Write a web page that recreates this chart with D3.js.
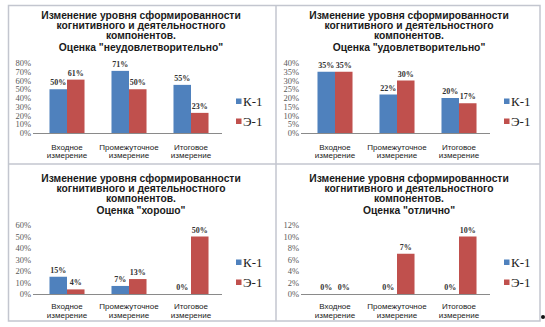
<!DOCTYPE html>
<html><head><meta charset="utf-8">
<script src="https://cdn.jsdelivr.net/npm/d3@7"></script>
<style>
html,body{margin:0;padding:0;background:#fff;}
svg{display:block;}
</style></head>
<body>
<svg id="chart" width="545" height="327"></svg>
<script>
// ---- data ----
const categories = ["Входное измерение", "Промежуточное измерение", "Итоговое измерение"];
const seriesNames = ["К-1", "Э-1"];
const titleLines = ["Изменение уровня сформированности", "когнитивного и деятельностного", "компонентов."];
const gradeTitles = ["Оценка \"неудовлетворительно\"", "Оценка \"удовлетворительно\"", "Оценка \"хорошо\"", "Оценка \"отлично\""];
const k1Unsatisfactory = [50, 71, 55];
const e1Unsatisfactory = [61, 50, 23];
const k1Satisfactory = [35, 22, 20];
const e1Satisfactory = [35, 30, 17];
const k1Good = [15, 7, 0];
const e1Good = [4, 13, 50];
const k1Excellent = [0, 0, 0];
const e1Excellent = [0, 7, 10];
const yMaxValues = [80, 40, 60, 12];
const yStepValues = [10, 5, 10, 2];

const seriesColors = ["#4F81BD", "#C0504D"];
const panelData = [
  [k1Unsatisfactory, e1Unsatisfactory],
  [k1Satisfactory, e1Satisfactory],
  [k1Good, e1Good],
  [k1Excellent, e1Excellent]
];

const svg = d3.select("#chart");

// table frame
const frame = svg.append("g").attr("stroke", "#c3c6cf").attr("stroke-width", 1.5).attr("fill", "none");
frame.append("rect").attr("x", 8.5).attr("y", 5.5).attr("width", 531.5).attr("height", 315.5);
frame.append("line").attr("x1", 276).attr("x2", 276).attr("y1", 5.5).attr("y2", 321);
frame.append("line").attr("x1", 8.5).attr("x2", 540).attr("y1", 164).attr("y2", 164);

const rows = [
  {title: 15, plotTop: 63, plotBottom: 133, xLab: 147, leg: 101.5},
  {title: 178, plotTop: 225, plotBottom: 294, xLab: 306.5, leg: 262.5}
];

panelData.forEach((series, p) => {
  const col = p % 2, row = Math.floor(p / 2);
  const L = rows[row];
  const g = svg.append("g").attr("transform", `translate(${col * 268},0)`);

  // title
  const tl = titleLines.concat([gradeTitles[p]]);
  const offs = [0, 10.3, 20.6, 32];
  g.append("g").selectAll("text").data(tl).join("text")
    .attr("x", 141).attr("y", (d, i) => L.title + offs[i] + 3.5)
    .attr("text-anchor", "middle")
    .attr("font-family", "Liberation Sans, Arial, sans-serif")
    .attr("font-weight", "bold").attr("font-size", 10.3).attr("fill", "#1a1a1a")
    .text(d => d);

  const x = d3.scaleBand().domain(categories).range([36, 222]).paddingInner(0.435).paddingOuter(0.2175);
  const xs = d3.scaleBand().domain(seriesNames).range([0, x.bandwidth()]);
  const y = d3.scaleLinear().domain([0, yMaxValues[p]]).range([L.plotBottom, L.plotTop]);

  // y axis
  const ya = g.append("g").attr("transform", `translate(34,0)`)
    .call(d3.axisLeft(y).tickValues(d3.range(0, yMaxValues[p] + yStepValues[p] / 2, yStepValues[p]))
      .tickFormat(d => d + "%").tickSize(0).tickPadding(3));
  ya.select(".domain").remove();
  ya.selectAll("text").attr("font-family", "Liberation Serif, Times New Roman, serif")
    .attr("font-size", 8.5).attr("fill", "#595959");

  // bars
  seriesNames.forEach((s, si) => {
    g.append("g").selectAll("rect").data(series[si]).join("rect")
      .attr("x", (d, i) => x(categories[i]) + xs(s))
      .attr("width", xs.bandwidth())
      .attr("y", d => y(d))
      .attr("height", d => y(0) - y(d))
      .attr("fill", seriesColors[si]);
    g.append("g").selectAll("text").data(series[si]).join("text")
      .attr("x", (d, i) => x(categories[i]) + xs(s) + xs.bandwidth() / 2)
      .attr("y", d => y(d) - 4)
      .attr("text-anchor", "middle")
      .attr("font-family", "Liberation Serif, Times New Roman, serif")
      .attr("font-weight", "bold").attr("font-size", 8).attr("fill", "#333")
      .text(d => d + "%");
  });

  // x axis baseline
  g.append("line").attr("x1", 33).attr("x2", 222).attr("y1", y(0) + 0.5).attr("y2", y(0) + 0.5)
    .attr("stroke", "#8a8a8a").attr("stroke-width", 1);

  // category labels
  const cl = g.append("g").selectAll("text").data(categories).join("text")
    .attr("x", d => x(d) + x.bandwidth() / 2)
    .attr("y", L.xLab)
    .attr("text-anchor", "middle")
    .attr("font-family", "Liberation Sans, Arial, sans-serif")
    .attr("font-size", 8).attr("fill", "#222");
  cl.each(function (d) {
    const parts = d.split(" ");
    const t = d3.select(this);
    parts.forEach((w, i) => {
      t.append("tspan").attr("x", x(d) + x.bandwidth() / 2).attr("dy", i === 0 ? 2.5 : 8.6).text(w);
    });
  });

  // legend
  seriesNames.forEach((s, si) => {
    const cy = L.leg + si * 20;
    g.append("rect").attr("x", 236).attr("y", cy - 3).attr("width", 5.5).attr("height", 5.5).attr("fill", seriesColors[si]);
    g.append("text").attr("x", 243).attr("y", cy + 4.5)
      .attr("font-family", "Liberation Serif, Times New Roman, serif")
      .attr("font-size", 13).attr("fill", "#222").text(s);
  });
});

// small mark at bottom-right corner
svg.append("circle").attr("cx", 543).attr("cy", 317).attr("r", 2).attr("fill", "#111");
</script>
</body></html>
